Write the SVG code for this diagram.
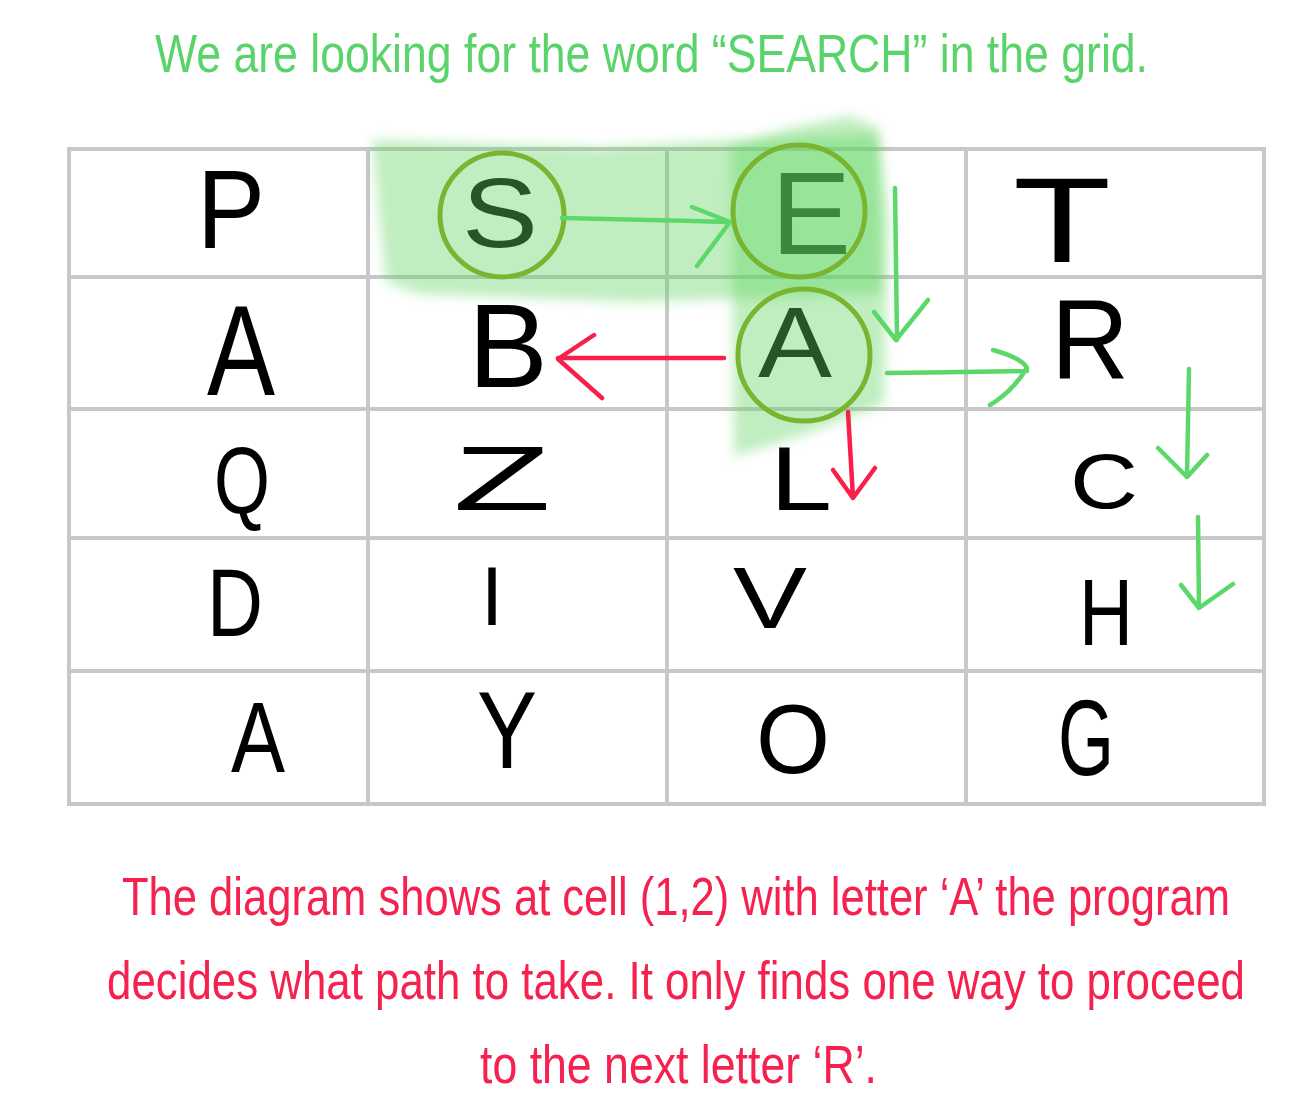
<svg xmlns="http://www.w3.org/2000/svg" width="1314" height="1108" viewBox="0 0 1314 1108">
<style>
  .grid line, .grid rect { stroke: #c8c8c8; stroke-width: 4; fill: none; }
  .letter { font-family: "Liberation Sans", "DejaVu Sans", sans-serif; fill: #000; text-anchor: middle; }
  .hl { fill: #5ed45e; opacity: 0.4; }
  .ring { fill: none; stroke: #7ab532; stroke-width: 5; }
  .arrow { fill: none; stroke-width: 4.5; stroke-linecap: round; stroke-linejoin: round; }
  .g { stroke: #5cd86a; }
  .r { stroke: #f81f4b; }
  .caption { font-family: "Liberation Sans", "DejaVu Sans", sans-serif; font-size: 44px; }
</style>
<defs>
  <filter id="blur" x="-20%" y="-20%" width="140%" height="140%">
    <feGaussianBlur stdDeviation="6"/>
  </filter>
</defs>
<rect width="1314" height="1108" fill="#ffffff"/>

<g id="title" transform="translate(0,72) scale(1,1.23)">
  <text class="caption" x="155" y="0" fill="#5ad46a" textLength="993" lengthAdjust="spacingAndGlyphs">We are looking for the word “SEARCH” in the grid.</text>
</g>

<g id="grid" class="grid">
  <rect x="69" y="149" width="1195" height="655"/>
  <line x1="368" y1="149" x2="368" y2="804"/>
  <line x1="667" y1="149" x2="667" y2="804"/>
  <line x1="966" y1="149" x2="966" y2="804"/>
  <line x1="69" y1="277" x2="1264" y2="277"/>
  <line x1="69" y1="409" x2="1264" y2="409"/>
  <line x1="69" y1="538" x2="1264" y2="538"/>
  <line x1="69" y1="671" x2="1264" y2="671"/>
</g>

<g id="letters">
  <g id="cell-0-0"><text class="letter" x="231" y="248" font-size="112" textLength="68" lengthAdjust="spacingAndGlyphs">P</text></g>
  <g id="cell-0-1"><text class="letter" x="500" y="247" font-size="98" textLength="76" lengthAdjust="spacingAndGlyphs">S</text></g>
  <g id="cell-0-2"><text class="letter" x="811" y="254" font-size="116" textLength="80" lengthAdjust="spacingAndGlyphs">E</text></g>
  <g id="cell-0-3"><text class="letter" x="1062" y="262" font-size="121" textLength="98" lengthAdjust="spacingAndGlyphs">T</text></g>

  <g id="cell-1-0"><text class="letter" x="241" y="395" font-size="128" textLength="68" lengthAdjust="spacingAndGlyphs">A</text></g>
  <g id="cell-1-1"><text class="letter" x="508" y="387" font-size="119" textLength="80" lengthAdjust="spacingAndGlyphs">B</text></g>
  <g id="cell-1-2"><text class="letter" x="795" y="377" font-size="100" textLength="74" lengthAdjust="spacingAndGlyphs">A</text></g>
  <g id="cell-1-3"><text class="letter" x="1090" y="378" font-size="113" textLength="78" lengthAdjust="spacingAndGlyphs">R</text></g>

  <g id="cell-2-0"><text class="letter" x="242" y="513" font-size="94" textLength="56" lengthAdjust="spacingAndGlyphs">Q</text></g>
  <g id="cell-2-1"><text class="letter" x="502" y="510" font-size="91" textLength="98" lengthAdjust="spacingAndGlyphs">Z</text></g>
  <g id="cell-2-2"><text class="letter" x="801" y="510" font-size="91" textLength="62" lengthAdjust="spacingAndGlyphs">L</text></g>
  <g id="cell-2-3"><text class="letter" x="1104" y="508" font-size="78" textLength="68" lengthAdjust="spacingAndGlyphs">C</text></g>

  <g id="cell-3-0"><text class="letter" x="235" y="636" font-size="96" textLength="56" lengthAdjust="spacingAndGlyphs">D</text></g>
  <g id="cell-3-1"><text class="letter" x="492" y="625" font-size="84" textLength="22" lengthAdjust="spacingAndGlyphs">I</text></g>
  <g id="cell-3-2"><text class="letter" x="770" y="628" font-size="88" textLength="74" lengthAdjust="spacingAndGlyphs">V</text></g>
  <g id="cell-3-3"><text class="letter" x="1106" y="645" font-size="94" textLength="54" lengthAdjust="spacingAndGlyphs">H</text></g>

  <g id="cell-4-0"><text class="letter" x="258" y="772" font-size="100" textLength="54" lengthAdjust="spacingAndGlyphs">A</text></g>
  <g id="cell-4-1"><text class="letter" x="507" y="768" font-size="109" textLength="60" lengthAdjust="spacingAndGlyphs">Y</text></g>
  <g id="cell-4-2"><text class="letter" x="793" y="773" font-size="98" textLength="74" lengthAdjust="spacingAndGlyphs">O</text></g>
  <g id="cell-4-3"><text class="letter" x="1086" y="775" font-size="108" textLength="56" lengthAdjust="spacingAndGlyphs">G</text></g>
</g>

<g id="highlight" filter="url(#blur)">
  <path class="hl" d="M372,140 L600,148 L735,140 L880,134 L882,294 L640,302 L420,294 L386,282 Z"/>
  <path class="hl" d="M731,146 L790,128 L850,116 L878,128 L888,220 L884,404 L800,436 L734,456 Z"/>
</g>

<g id="rings">
  <circle id="ring-S" class="ring" cx="502" cy="215" r="62"/>
  <circle id="ring-E" class="ring" cx="799" cy="211" r="66"/>
  <circle id="ring-A" class="ring" cx="804" cy="355" r="66"/>
</g>

<g id="connectors">
  <path class="arrow g" d="M562,218 L730,222 M692,207 L730,222 L697,266"/>
  <path class="arrow g" d="M895,188 L897,340 M874,312 L896,340 L928,300"/>
  <path class="arrow g" d="M887,373 L1027,371 M993,350 Q1022,358 1027,368 Q1012,392 990,405"/>
  <path class="arrow g" d="M1189,369 L1187,477 M1158,448 L1187,477 L1207,455"/>
  <path class="arrow g" d="M1198,517 L1199,608 M1181,585 L1199,608 L1233,584"/>
  <path class="arrow r" d="M724,358 L558,358 M594,335 L558,359 L602,398"/>
  <path class="arrow r" d="M848,412 L853,498 M833,470 L853,498 L875,468"/>
</g>

<g id="caption" fill="#f5214e">
  <g transform="translate(0,915) scale(1,1.23)">
    <text class="caption" x="122" y="0" textLength="1108" lengthAdjust="spacingAndGlyphs">The diagram shows at cell (1,2) with letter ‘A’ the program</text>
  </g>
  <g transform="translate(0,999) scale(1,1.23)">
    <text class="caption" x="107" y="0" textLength="1138" lengthAdjust="spacingAndGlyphs">decides what path to take. It only finds one way to proceed</text>
  </g>
  <g transform="translate(0,1083) scale(1,1.23)">
    <text class="caption" x="480" y="0" textLength="397" lengthAdjust="spacingAndGlyphs">to the next letter ‘R’.</text>
  </g>
</g>
</svg>
